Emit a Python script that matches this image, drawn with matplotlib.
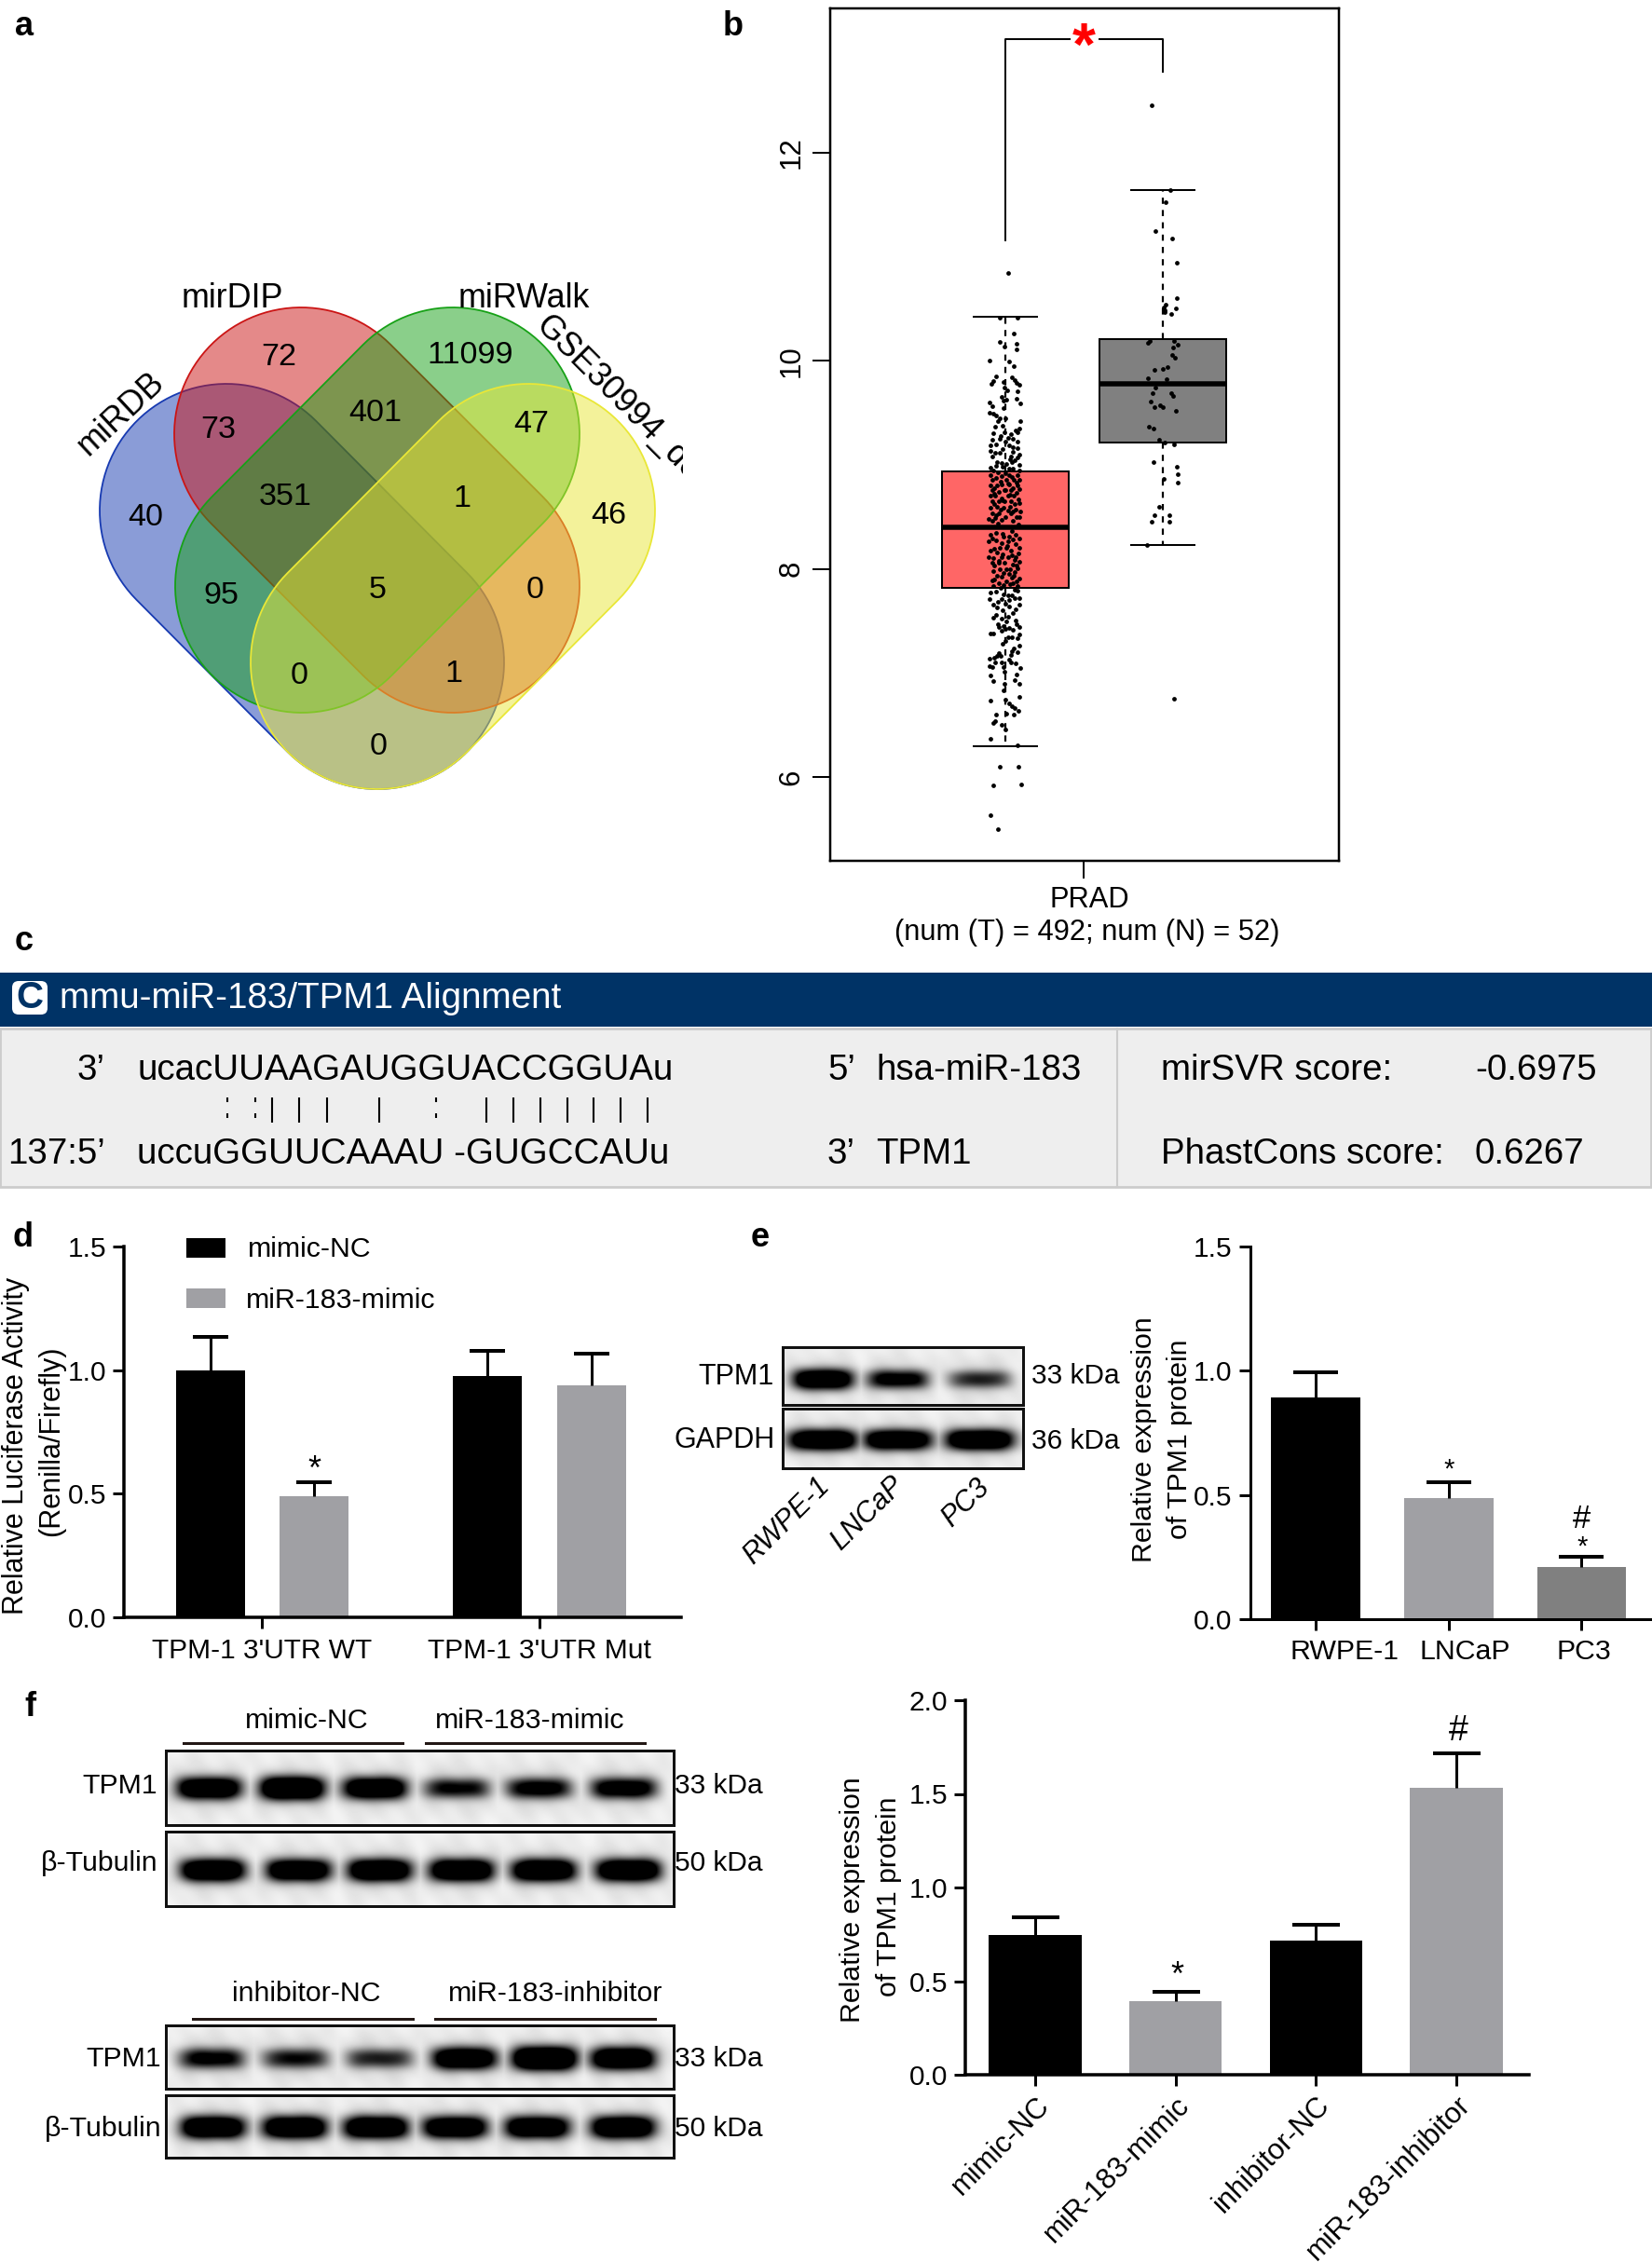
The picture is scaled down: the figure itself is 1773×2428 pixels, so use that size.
import numpy as np
import matplotlib
matplotlib.use('Agg')
import matplotlib.pyplot as plt
from matplotlib.patches import Polygon, Rectangle, FancyBboxPatch
from matplotlib.colors import to_rgba

plt.rcParams['font.family'] = ['Liberation Sans', 'DejaVu Sans']

W, H = 1773, 2428

# panel a
venn_names = ['miRDB', 'mirDIP', 'miRWalk', 'GSE30994_down']
venn_counts = ['72', '11099', '73', '401', '47', '351', '1', '40', '46', '95', '5', '0', '0', '1', '0']

# panel b
prad_t_stats = dict(whishi=10.42, q3=8.935, med=8.40, q1=7.82, whislo=6.30)
prad_n_stats = dict(whishi=11.64, q3=10.21, med=9.78, q1=9.21, whislo=8.23)
prad_t_y = [10.84, 10.417, 10.417, 10.26, 10.18, 10.137, 10.164, 10.11, 10.006, 9.994, 9.95, 9.854, 9.806, 9.78,
            9.845, 9.815, 9.79, 9.77, 9.80, 9.74, 9.717, 9.705, 9.657, 9.62, 9.627, 9.6, 9.568, 9.634, 9.59, 9.547,
            9.5, 9.49, 9.47, 9.45, 9.42, 9.443, 9.42, 9.37, 9.377, 9.353, 9.33, 9.30, 9.31, 9.294, 9.31,
            9.24, 9.25, 9.25, 9.227, 9.19, 9.19, 9.138, 9.114, 9.12, 9.129, 9.159, 9.084, 9.07, 9.025, 9.02, 9.01,
            9.025, 9.0, 8.974, 8.965, 8.95, 8.95, 8.905, 8.89, 8.905, 8.905, 8.86, 8.86, 8.86, 8.86, 8.8, 8.8, 8.81,
            8.816, 8.8, 8.756, 8.74, 8.756, 8.756, 8.77, 8.70, 8.70, 8.68, 8.70, 8.70, 8.65, 8.65, 8.65, 8.65, 8.637,
            8.59, 8.60, 8.59, 8.563, 8.57, 8.55, 8.533, 8.533, 8.533, 8.48, 8.488, 8.473, 8.494, 8.458,
            8.324, 8.295, 8.265, 8.31, 8.31, 8.33, 8.25, 8.265, 8.295, 8.235, 8.205, 8.205, 8.205, 8.175, 8.16, 8.175,
            8.116, 8.1, 8.116, 8.116, 8.116, 8.056, 8.056, 8.056, 8.07, 8.04, 7.996, 7.996, 8.01, 7.98, 7.95, 7.937,
            7.922, 7.937, 7.907, 7.892, 7.877, 7.862, 7.862, 7.847, 7.838, 7.838,
            7.773, 7.758, 7.743, 7.788, 7.714, 7.714, 7.7, 7.72, 7.654, 7.63, 7.64, 7.654, 7.61, 7.535, 7.52, 7.54,
            7.505, 7.5, 7.444, 7.45, 7.43, 7.444, 7.408, 7.414, 7.376, 7.376, 7.37, 7.34, 7.34, 7.334, 7.31, 7.265,
            7.236, 7.206, 7.2, 7.19, 7.176, 7.16, 7.146, 7.137, 7.16, 7.13, 7.1, 7.1, 7.1, 7.095, 7.066, 7.057, 7.057,
            7.048, 7.012, 6.976, 6.982, 6.932, 6.92, 6.893, 6.893, 6.833, 6.774, 6.735, 6.744, 6.705, 6.678, 6.663,
            6.64, 6.604, 6.61, 6.604, 6.535, 6.52, 6.5, 6.46, 6.365, 6.303, 6.097, 6.097, 5.918, 5.933, 5.632, 5.5]
prad_t_jit = [.02, -.034, .076, .056, -.038, -.008, .07, .07, -.1, .022, .056, -.06, -.074, -.09,
              .042, .062, .074, .088, -.014, -.004, .01, .076, -.024, -.014, .006, -.1, -.082, .07, .092, -.014,
              -.098, -.078, -.058, -.034, -.05, -.002, .092, -.064, -.018, .086, .066, -.074, -.004, .036, .076,
              -.084, -.034, .046, .076, -.094, .026, -.094, -.064, -.034, .046, .076, .036, .076, -.054, -.024, .006,
              .042, .086, -.094, .022, .086, -.074, -.094, -.024, .026, .076, -.084, .006, .056, .086, -.094, -.054, -.024,
              .026, .076, -.084, -.044, -.004, .036, .086, -.094, -.064, -.024, .016, .056, -.084, -.044, -.004, .036, .086,
              -.094, -.054, -.014, .016, .066, .096, -.084, -.044, .036, -.104, -.064, -.024, .086, -.084,
              -.094, -.084, -.104, -.014, .026, .066, -.024, .016, .086, .066, .086, -.034, .006, -.094, -.054, .036,
              -.104, -.074, -.024, .016, .066, -.084, -.044, -.004, .086, .046, -.034, .006, .076, -.074, .026, -.054,
              -.024, .056, .086, -.084, .006, -.044, .046, -.014, .076, -.074,
              -.094, -.014, .016, .076, -.098, -.024, .026, .086, -.074, -.054, .026, .086, .066, -.078, -.024, .016,
              .066, .006, -.044, -.014, .026, .086, -.024, .046, -.094, -.074, .086, .016, .042, .076, 0, .086,
              .056, .042, .076, -.044, .036, -.054, -.07, -.1, -.03, .026, -.064, -.024, .036, .066, -.1, -.084, -.014,
              .096, -.004, -.094, .07, .06, -.078, .086, -.004, -.014, .086, -.094, 0, .026, .042, .062,
              .082, -.058, .006, .052, -.064, -.078, -.024, .002, -.094, .076, -.034, .082, -.078, .098, -.092, -.046]
# dots in the densest part of the cloud, estimated by eye
prad_t_dense_y = [9.28, 9.26, 9.22, 9.2, 9.17, 9.15, 9.1, 9.08, 9.05, 9.04, 8.99, 8.98, 8.96, 8.93, 8.92, 8.88, 8.87,
                  8.84, 8.83, 8.82, 8.78, 8.78, 8.76, 8.73, 8.72, 8.71, 8.67, 8.66, 8.62, 8.62, 8.6, 8.57, 8.55, 8.52,
                  8.5, 8.5, 8.46, 8.44, 8.43, 8.35, 8.36, 8.34, 8.28, 8.27, 8.22, 8.19, 8.15, 8.14, 8.13, 8.09, 8.08,
                  8.03, 8.03, 8.0, 7.97, 7.96, 7.92, 7.9, 7.88, 7.85, 7.82, 7.8, 7.78, 7.75, 7.72, 7.68, 7.67, 7.6,
                  7.58, 7.56, 7.47, 7.47, 7.42, 7.28]
prad_t_dense_jit = [-.03, .02, 0, -.06, .05, -.02, .09, -.08, .03, .06, -.06, -.02, .05, -.05, 0, .04, -.06,
                    -.03, .07, .02, -.07, .05, 0, .07, -.07, .03, .08, -.02, .06, -.07, .03, -.03, .05, -.06,
                    .07, 0, .05, -.05, .08, -.06, .04, -.02, .05, -.06, .01, -.07, .08, -.02, .04, .06, -.04,
                    .07, -.07, .03, .06, -.01, .04, -.07, .07, .03, -.03, .06, -.06, .04, .06, -.05, 0, -.02,
                    .05, -.06, .07, -.05, 0, -.02]
prad_n_y = [12.459, 11.636, 11.526, 11.249, 11.171, 10.942, 10.605, 10.54, 10.504, 10.516, 10.49, 10.468, 10.45,
            10.193, 10.175, 10.193, 10.152, 10.128, 10.053, 10.032, 9.937, 9.919, 9.913, 9.836, 9.821, 9.746, 9.693,
            9.69, 9.66, 9.612, 9.57, 9.556, 9.556, 9.52, 9.371, 9.353, 9.24, 9.213, 9.195, 9.025, 8.983, 8.906, 8.867,
            8.832, 8.599, 8.516, 8.516, 8.453, 8.45, 8.232, 6.749]
prad_n_jit = [-.069, .045, .018, -.049, .061, .089, .09, .02, .083, .008, .01, .014, .055,
              -.085, -.093, .073, .097, .067, .057, .077, .028, .002, -.051, -.097, .024, -.045, -.067,
              .055, .065, -.079, -.016, 0, -.055, .085, -.091, -.059, -.026, .01, .071, -.057, .09, .093, .004,
              .093, -.026, -.055, .043, -.071, .043, -.099, .071]

# panel c
seq_mir = 'ucacUUAAGAUGGUACCGGUAu'
seq_tpm = 'uccuGGUUCAAAU -GUGCCAUu'
score_names = ['mirSVR score:', 'PhastCons score:']
score_values = ['-0.6975', '0.6267']

# panel d
d_groups = ["TPM-1 3'UTR WT", "TPM-1 3'UTR Mut"]
d_nc = [1.0, 0.975]
d_nc_top = [1.135, 1.078]
d_mimic = [0.49, 0.94]
d_mimic_top = [0.545, 1.067]

# panel e
e_lines = ['RWPE-1', 'LNCaP', 'PC3']
e_vals = [0.892, 0.487, 0.21]
e_tops = [0.994, 0.551, 0.251]
e_colors = ['black', '#a0a0a4', '#808080']
e_tpm1 = [1.0, 0.72, 0.5]
e_gapdh = [1.05, 1.0, 1.05]

# panel f
f_groups = ['mimic-NC', 'miR-183-mimic', 'inhibitor-NC', 'miR-183-inhibitor']
f_vals = [0.744, 0.393, 0.717, 1.53]
f_tops = [0.84, 0.445, 0.803, 1.718]
f_colors = ['black', '#a0a0a4', 'black', '#a0a0a4']
f_blot1 = [1.0, 1.15, 1.0, 0.62, 0.72, 0.8]
f_blot2 = [1.05, 1.0, 1.05, 1.05, 1.05, 1.05]
f_blot3 = [0.68, 0.58, 0.52, 1.0, 1.2, 1.05]
f_blot4 = [1.05, 1.05, 1.05, 1.0, 1.0, 1.05]

fig = plt.figure(figsize=(W / 100, H / 100), dpi=100)


def px_axes(l, t, r, b):
    return fig.add_axes([l / W, 1 - b / H, (r - l) / W, (b - t) / H])


def pt(px):
    return px * 0.72


ov = px_axes(0, 0, W, H)
ov.set_zorder(5)
ov.patch.set_alpha(0)


def label(x, y, s, size=21.8, ha='center', va='center', **kw):
    return ov.text(x, y, s, fontsize=size, ha=ha, va=va, **kw)


for s, x, y in [('a', 26, 29), ('b', 787, 28), ('c', 26, 1011), ('d', 25, 1328), ('e', 816, 1328), ('f', 32, 1832)]:
    label(x, y, s, size=26, fontweight='bold')

# ---- a: venn
ax = px_axes(0, 0, 733, 900)
ax.set_xlim(0, 733)
ax.set_ylim(900, 0)
ax.axis('off')


def capsule(p1, p2, r):
    ang = np.arctan2(p2[1] - p1[1], p2[0] - p1[0])
    t1 = np.linspace(ang + np.pi / 2, ang + 3 * np.pi / 2, 60)
    t2 = np.linspace(ang - np.pi / 2, ang + np.pi / 2, 60)
    xs = np.r_[p1[0] + r * np.cos(t1), p2[0] + r * np.cos(t2)]
    ys = np.r_[p1[1] + r * np.sin(t1), p2[1] + r * np.sin(t2)]
    return np.c_[xs, ys]


shapes = [((243, 548), (405, 711), '#173ab1'),
          ((323, 466), (486, 629), '#cb1515'),
          ((486, 466), (324, 629), '#17a117'),
          ((567, 548), (405, 711), '#e9e737')]
for p1, p2, c in shapes:
    ax.add_patch(Polygon(capsule(p1, p2, 136), fc=to_rgba(c, 0.5), ec=c, lw=1.3))

count_pos = [(299, 384), (505, 381), (234, 462), (403, 444), (570, 455), (306, 533), (496, 535), (156, 556),
             (653, 554), (237, 639), (405, 634), (574, 633), (321, 725), (487, 724), (406, 801)]
for s, (x, y) in zip(venn_counts, count_pos):
    ax.text(x, y, s, fontsize=24.6, ha='center', va='center')
ax.text(130, 444, venn_names[0], fontsize=25.8, rotation=43, ha='center', va='center')
ax.text(249, 321, venn_names[1], fontsize=25.8, ha='center', va='center')
ax.text(562, 320, venn_names[2], fontsize=25.8, ha='center', va='center')
ax.text(580, 344, venn_names[3], fontsize=25.8, rotation=-45, ha='left', va='center', rotation_mode='anchor', clip_on=True)

# ---- b: boxplot
ax = px_axes(890.5, 9, 1437, 924)
ax.set_xlim(-0.115, 3.118)
ax.set_ylim(5.195, 13.386)
stats = [dict(prad_t_stats, fliers=[]), dict(prad_n_stats, fliers=[])]
bp = ax.bxp(stats, positions=[1, 2], widths=0.8, capwidths=0.405, patch_artist=True, showfliers=False,
            manage_ticks=False,
            medianprops=dict(color='black', lw=pt(5.5), solid_capstyle='butt'),
            boxprops=dict(edgecolor='black', lw=pt(2)),
            whiskerprops=dict(color='black', lw=pt(2.2), ls=(0, (3, 3))),
            capprops=dict(color='black', lw=pt(2)))
bp['boxes'][0].set_facecolor('#ff6666')
bp['boxes'][1].set_facecolor('#808080')
ax.plot(1 + np.array(prad_t_jit), prad_t_y, 'o', color='black', ms=pt(4.8), mew=0, zorder=5)
ax.plot(1 + np.array(prad_t_dense_jit), prad_t_dense_y, 'o', color='black', ms=pt(4.8), mew=0, zorder=5)
ax.plot(2 + np.array(prad_n_jit), prad_n_y, 'o', color='black', ms=pt(4.8), mew=0, zorder=5)
ax.set_xticks([1.5], [''])
ax.set_yticks([6, 8, 10, 12])
ax.tick_params(axis='both', length=pt(19), width=pt(2))
ax.tick_params(axis='y', labelsize=22.5, labelrotation=90, pad=5)
for lab in ax.get_yticklabels():
    lab.set_va('center')
for sp in ax.spines.values():
    sp.set_linewidth(pt(2.5))
ax.plot([1, 1, 1.406], [11.16, 13.09, 13.09], color='black', lw=pt(2))
ax.plot([1.6, 2, 2], [13.09, 13.09, 12.78], color='black', lw=pt(2))
ax.text(1.5, 12.99, '*', color='red', fontsize=46, fontweight='bold', ha='center', va='center')
label(1169, 966, 'PRAD', size=22.2)
label(1167, 1001, '(num (T) = 492; num (N) = 52)', size=22.2)

# ---- c: alignment box
ov.add_patch(Rectangle((0, 1044), W, 58, fc='#003366', ec='none'))
ov.add_patch(Rectangle((0, 1104), W - 1, 170, fc='#eeeeee', ec='#cccccc', lw=2))
ov.plot([1199, 1199], [1104, 1274], color='#cccccc', lw=1.5)
ov.add_patch(FancyBboxPatch((16, 1056), 32, 30, boxstyle='round,pad=3,rounding_size=7', fc='white', ec='none'))
label(32, 1071, 'C', size=29, color='#003366', fontweight='bold')
label(64, 1072, 'mmu-miR-183/TPM1 Alignment', size=27.8, ha='left', color='white')
row1, row3 = 1149, 1239
label(113, row1, "3’", size=27.7, ha='right')
label(147, row1, seq_mir, size=27.7, ha='left')
label(888, row1, "5’", size=27.7, ha='left')
label(940, row1, 'hsa-miR-183', size=27.7, ha='left')
label(1246, row1, score_names[0], size=27.7, ha='left')
label(1583, row1, score_values[0], size=27.7, ha='left')
label(113, row3, "137:5’", size=27.7, ha='right')
label(147, row3, seq_tpm, size=27.7, ha='left')
label(888, row3, "3’", size=27.7, ha='left')
label(940, row3, 'TPM1', size=27.7, ha='left')
label(1246, row3, score_names[1], size=27.7, ha='left')
label(1583, row3, score_values[1], size=27.7, ha='left')
ov.vlines([292, 321, 351, 407, 521.5, 551, 580, 609, 637, 666, 695], 1178, 1205, color='black', lw=1.5)
ov.vlines([244, 274, 468], 1178, 1183, color='black', lw=1.5)
ov.vlines([244, 274, 468], 1195, 1200, color='black', lw=1.5)


# ---- western blots
def blot(l, t, r, b, centers, levels, yc, bw=35.0, bh=12.0):
    xs = np.arange(l, r)
    ys = np.arange(t, b)
    xx, yy = np.meshgrid(xs, ys)
    dark = np.zeros(xx.shape, float)
    for c, lv in zip(centers, levels):
        prof = np.exp(-(np.abs(xx - c) / bw) ** 4) * np.exp(-(np.abs(yy - yc) / (bh * (0.7 + 0.3 * lv))) ** 2.4)
        halo = np.exp(-(np.abs(xx - c) / (bw * 1.15)) ** 4) * np.exp(-((yy - yc) / (bh * 2.0)) ** 2)
        dark = np.maximum(dark, np.clip(1.5 * lv * prof, 0, 1) * 0.93 + 0.12 * halo)
    smudge = 0.012 * np.sin(xx / 9.0 + yy / 13.0) + 0.012 * np.sin(xx / 5.0 - yy / 7.0)
    img = np.clip(0.94 + smudge - dark, 0, 1)
    ov.imshow(img, extent=[l, r, b, t], cmap='gray', vmin=0, vmax=1, aspect='auto', interpolation='bilinear', zorder=1)
    ov.add_patch(Rectangle((l, t), r - l, b - t, fc='none', ec='#111111', lw=pt(3), zorder=2))


e_x = [883, 963, 1051]
blot(840, 1446, 1098, 1508, e_x, e_tpm1, 1480, bw=33, bh=11)
blot(840, 1512, 1098, 1576, e_x, e_gapdh, 1545, bw=37, bh=11)
label(831, 1478, 'TPM1', ha='right', size=22)
label(832, 1546, 'GAPDH', ha='right', size=22)
label(1107, 1477, '33 kDa', size=21.5, ha='left')
label(1107, 1547, '36 kDa', size=21.5, ha='left')
for s, x, y in zip(e_lines, [844, 931, 1036], [1633, 1625, 1613]):
    label(x, y, s, size=22, rotation=45, style='italic')

f_x1 = [224, 313, 402, 490, 578, 669]
f_x2 = [228, 320, 407, 495, 583, 674]
f_x3 = [227, 317, 407, 498, 584, 668]
f_x4 = [228, 316, 403, 488, 576, 668]
blot(178, 1879, 723, 1959, f_x1, f_blot1, 1919)
blot(178, 1966, 723, 2046, f_x2, f_blot2, 2007)
blot(178, 2174, 723, 2242, f_x3, f_blot3, 2209)
blot(178, 2249, 723, 2316, f_x4, f_blot4, 2283)
line_c = '#231815'
ov.plot([197, 432], [1871, 1871], color=line_c, lw=pt(3))
ov.plot([457, 692], [1871, 1871], color=line_c, lw=pt(3))
ov.plot([207, 443], [2167, 2167], color=line_c, lw=pt(3))
ov.plot([467, 703], [2167, 2167], color=line_c, lw=pt(3))
label(329, 1847, f_groups[0])
label(569, 1847, f_groups[1])
label(329, 2140, f_groups[2])
label(596, 2140, f_groups[3])
for y1, y2, xr in [(1917, 2000, 169), (2210, 2285, 173)]:
    label(xr, y1, 'TPM1', ha='right')
    label(xr + 1, y2, 'β-Tubulin', ha='right')
    label(724, y1, '33 kDa', size=21.5, ha='left')
    label(724, y2, '50 kDa', size=21.5, ha='left')

ov.set_xlim(0, W)
ov.set_ylim(H, 0)
ov.axis('off')


def bar_style(ax, xs, vals, tops, cap_px, lw_sp=3.5):
    ax.vlines(xs, vals, tops, color='black', lw=pt(3))
    ax.plot(xs, tops, '_', color='black', ms=pt(cap_px), mew=pt(4))
    for sp in ['top', 'right']:
        ax.spines[sp].set_visible(False)
    for sp in ['left', 'bottom']:
        ax.spines[sp].set_linewidth(pt(lw_sp))
    ax.tick_params(axis='both', length=pt(12), width=pt(3), labelsize=21.5, pad=5)


# ---- d
ax = px_axes(133, 1338, 731, 1736)
ax.set_xlim(-0.498, 1.51)
ax.set_ylim(0, 1.5)
x_d = np.arange(len(d_groups))
ax.bar(x_d - 0.187, d_nc, 0.248, color='black')
ax.bar(x_d + 0.187, d_mimic, 0.248, color='#a0a0a4')
bar_style(ax, x_d - 0.187, d_nc, d_nc_top, 38)
bar_style(ax, x_d + 0.187, d_mimic, d_mimic_top, 38)
ax.set_yticks([0, 0.5, 1.0, 1.5], ['0.0', '0.5', '1.0', '1.5'])
ax.set_xticks(x_d, d_groups)
ax.tick_params(axis='x', pad=7)
label(337.5, 1578, '*', size=26)
ov.add_patch(Rectangle((200, 1329), 42, 21, fc='black', ec='none'))
ov.add_patch(Rectangle((200, 1383), 42, 21, fc='#a0a0a4', ec='none'))
label(266, 1341, 'mimic-NC', ha='left')
label(264, 1396, 'miR-183-mimic', ha='left')
label(17, 1552, 'Relative Luciferase Activity', size=22, rotation=90)
label(55, 1547, '(Renilla/Firefly)', size=22, rotation=90)

# ---- e
ax = px_axes(1341.5, 1338, 1771, 1738)
ax.set_xlim(-0.494, 2.515)
ax.set_ylim(0, 1.5)
x_e = np.arange(len(e_lines))
ax.bar(x_e, e_vals, 0.67, color=e_colors)
bar_style(ax, x_e, e_vals, e_tops, 48, lw_sp=3)
ax.set_yticks([0, 0.5, 1.0, 1.5], ['0.0', '0.5', '1.0', '1.5'])
ax.set_xticks(x_e, ['', '', ''])
for s, x in zip(e_lines, [1443, 1572, 1700]):
    label(x, 1773, s, size=21.8)
label(1555, 1578, '*', size=21)
label(1698, 1631, '#', size=25)
label(1698, 1661, '*', size=21)
label(1228, 1545, 'Relative expression', size=21.8, rotation=90)
label(1266, 1545, 'of TPM1 protein', size=21.8, rotation=90)

# ---- f
ax = px_axes(1036, 1825, 1641, 2227)
ax.set_xlim(-0.498, 3.517)
ax.set_ylim(0, 2.0)
x_f = np.arange(len(f_groups))
ax.bar(x_f, f_vals, 0.66, color=f_colors)
bar_style(ax, x_f, f_vals, f_tops, 51)
ax.set_yticks([0, 0.5, 1.0, 1.5, 2.0], ['0.0', '0.5', '1.0', '1.5', '2.0'])
ax.set_xticks(x_f, f_groups, rotation=45, ha='right', rotation_mode='anchor', fontsize=22.2)
ax.tick_params(axis='x', pad=4)
label(1263, 2121, '*', size=26)
label(1565.6, 1858, '#', size=27)
label(914.6, 2039, 'Relative expression', size=21.8, rotation=90)
label(954, 2036, 'of TPM1 protein', size=21.8, rotation=90)

fig.savefig('out.png', dpi=100)
